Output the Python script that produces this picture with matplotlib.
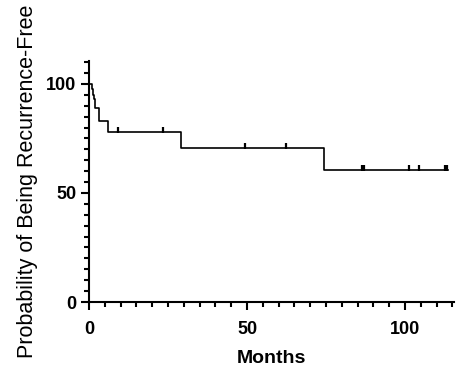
import matplotlib
matplotlib.use("Agg")
import matplotlib.pyplot as plt
from matplotlib.ticker import MultipleLocator

# step curve (months, % recurrence-free)
step_t = [0, 0.95, 1.35, 1.7, 2.0, 3.3, 5.9, 29.1, 74.5]
step_p = [100, 97.5, 95, 93, 89, 83, 78, 70.7, 60.3]
end_t = 113.6

# censored observations
cens_t = [9.3, 23.3, 49.4, 62.3, 86.5, 87.1, 101.4, 104.4, 112.5, 113.2]
cens_p = [78, 78, 70.7, 70.7, 60.3, 60.3, 60.3, 60.3, 60.3, 60.3]

plt.rcParams['font.family'] = ['Liberation Sans', 'DejaVu Sans']

fig = plt.figure(figsize=(4.74, 3.88), dpi=100)
ax = fig.add_axes([0.1878, 0.2216, 0.77, 0.6212])

xs = step_t + [end_t]
ys = step_p + [step_p[-1]]
ax.step(xs, ys, where='post', color='black', lw=1.2)
ax.plot(cens_t, [p + 1.0 for p in cens_p], ls='none', marker='|',
        ms=4.5, mew=1.6, color='black')

ax.set_xlim(0, 115.5)
ax.set_ylim(0, 110.5)
ax.xaxis.set_major_locator(MultipleLocator(50))
ax.xaxis.set_minor_locator(MultipleLocator(5))
ax.yaxis.set_major_locator(MultipleLocator(50))
ax.yaxis.set_minor_locator(MultipleLocator(5))

for s in ['top', 'right']:
    ax.spines[s].set_visible(False)
for s in ['left', 'bottom']:
    ax.spines[s].set_linewidth(1.5)

ax.tick_params(which='major', length=6, width=1.5, labelsize=13)
ax.tick_params(axis='x', which='major', pad=8)
ax.tick_params(axis='y', which='major', pad=3)
ax.tick_params(which='minor', length=3.5, width=1.5)
for lab in ax.get_xticklabels() + ax.get_yticklabels():
    lab.set_fontweight('bold')

ax.set_xlabel('Months', fontsize=14, fontweight='bold', labelpad=8)
ax.set_ylabel('Probability of Being Recurrence-Free', fontsize=15.5, labelpad=6)

fig.savefig('out.png', dpi=100)
